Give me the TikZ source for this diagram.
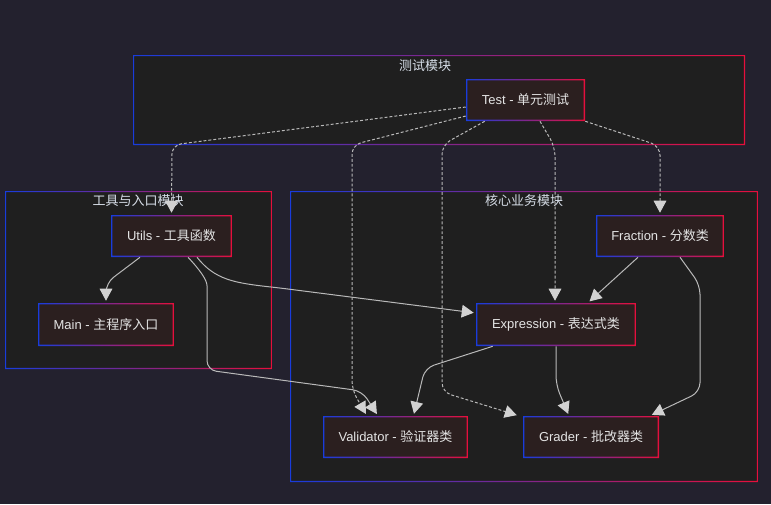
\documentclass[tikz,border=0pt]{standalone}
\usepackage{fontspec}
\setmainfont{Liberation Sans}
\newfontfamily\cjk{Noto Sans CJK SC}
\usetikzlibrary{arrows.meta,calc}
\definecolor{bg}{RGB}{35,33,46}
\definecolor{clfill}{RGB}{31,31,31}
\definecolor{ndfill}{RGB}{43,31,31}
\definecolor{cblue}{RGB}{25,60,220}
\definecolor{cred}{RGB}{230,15,60}
\definecolor{txt}{RGB}{228,228,228}
\definecolor{lbl}{RGB}{215,222,232}
\definecolor{edgec}{RGB}{185,185,185}
\definecolor{tipc}{RGB}{210,210,210}
\begin{document}
\begin{tikzpicture}[x=0.75pt,y=-0.75pt,
  gb/.style={path picture={\shade[left color=cblue,right color=cred,even odd rule]
     (path picture bounding box.south west) rectangle (path picture bounding box.north east)
     ([shift={(#1,#1)}]path picture bounding box.south west) rectangle ([shift={(-#1,-#1)}]path picture bounding box.north east);}},
  box/.style={fill=ndfill, inner sep=0pt, text=txt, font=\fontsize{9.75}{12}\selectfont, gb=1.1pt},
  cluster/.style={fill=clfill, inner sep=0pt, gb=0.9pt},
  lab/.style={text=lbl, font=\fontsize{9.75}{12}\selectfont, inner sep=0pt},
  conn/.style={draw=edgec, line width=0.75pt, rounded corners=7pt, shorten >=1.5pt,
     -{Triangle[length=9pt,width=9.5pt,color=tipc,fill=tipc]}},
  dconn/.style={conn, dash pattern=on 2.2pt off 1.5pt}]
\useasboundingbox[fill=bg] (0,0) rectangle (771,504);

% clusters
\node[cluster, minimum width=459pt, minimum height=67.5pt] (ctest) at (439,100) {};
\node[cluster, minimum width=200.25pt, minimum height=133.5pt] (ctool) at (138.5,280) {};
\node[cluster, minimum width=351pt, minimum height=218.25pt] (ccore) at (524,336.5) {};
\node[lab] (ltest) at (425,66) {\cjk 测试模块};
\node[lab] (ltool) at (138,201) {\cjk 工具与入口模块};
\node[lab] (lcore) at (524,201) {\cjk 核心业务模块};

% nodes
\node[box, minimum width=89.25pt, minimum height=31.5pt] (Test) at (525.5,100) {Test - {\cjk 单元测试}};
\node[box, minimum width=90.75pt, minimum height=31.5pt] (Utils) at (171.5,236) {Utils - {\cjk 工具函数}};
\node[box, minimum width=102pt, minimum height=32.25pt] (Main) at (106,324.5) {Main - {\cjk 主程序入口}};
\node[box, minimum width=96pt, minimum height=31.5pt] (Fraction) at (660,236) {Fraction - {\cjk 分数类}};
\node[box, minimum width=120pt, minimum height=32.25pt] (Expression) at (556,324.5) {Expression - {\cjk 表达式类}};
\node[box, minimum width=108.75pt, minimum height=31.5pt] (Validator) at (395.5,437) {Validator - {\cjk 验证器类}};
\node[box, minimum width=102pt, minimum height=31.5pt] (Grader) at (591,437) {Grader - {\cjk 批改器类}};

% dashed from Test
\draw[dconn] ($(Test.west)+(0,7)$) -- (172,145) -- (Utils.north);
\draw[dconn] ($(Test.west)+(0,16)$) -- (352,145) -- (352,390) -- ($(Validator.north)+(-28.5,0)$);
\draw[dconn] ($(Test.south west)+(19,0)$) -- (442,145) -- (442,392) -- ($(Grader.north west)+(-4,0)$);
\draw[dconn] ($(Test.south)+(14.5,0)$) -- (555,147) -- ($(Expression.north)+(-1,0)$);
\draw[dconn] (Test.south east) -- (660,146) -- (Fraction.north);

% solid
\draw[conn] ($(Utils.south)+(-31.5,0)$) -- (106,283) -- (Main.north);
\draw[conn] ($(Utils.south)+(25.5,0)$) .. controls (215,280) and (235,283) .. (280,288) -- ($(Expression.west)+(0,-11.5)$);
\draw[conn] ($(Utils.south)+(16.5,0)$) .. controls (200,270) and (207,280) .. (207,295) -- (207,370) -- (362,391) -- ($(Validator.north)+(-17.5,0)$);
\draw[conn] ($(Expression.south west)+(17,0)$) -- (425,368) -- ($(Validator.north)+(18,0)$);
\draw[conn] (Expression.south) -- (556,385) -- ($(Grader.north)+(-22,0)$);
\draw[conn] ($(Fraction.south)+(-22,0)$) -- ($(Expression.north)+(32,0)$);
\draw[conn] ($(Fraction.south)+(20,0)$) -- (700,285) -- (700,392) -- ($(Grader.north)+(59,0)$);
\end{tikzpicture}
\end{document}
